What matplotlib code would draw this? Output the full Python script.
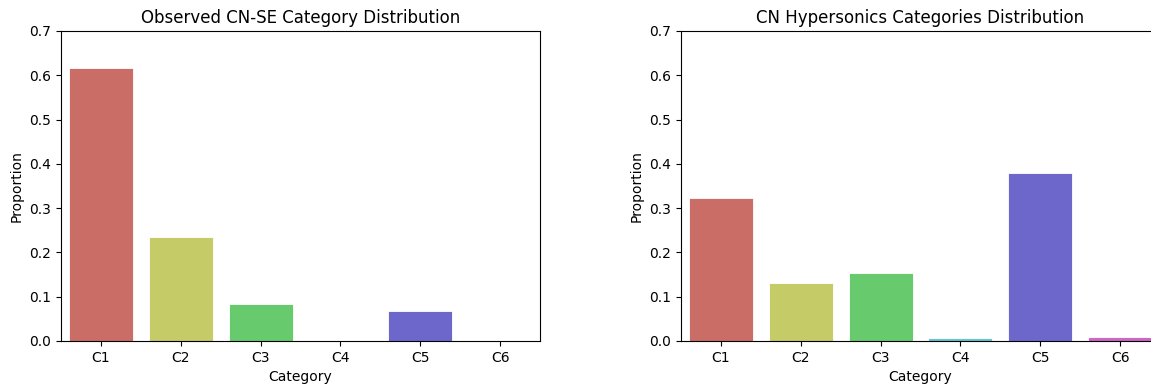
import matplotlib
matplotlib.use("Agg")
import matplotlib.pyplot as plt
import seaborn as sns
import pandas as pd

# --- data ---
categories = ["C1", "C2", "C3", "C4", "C5", "C6"]
observed_props = [0.617, 0.234, 0.084, 0.0, 0.067, 0.0]
hypersonic_props = [0.322, 0.131, 0.154, 0.006, 0.379, 0.009]

titles = ["Observed CN-SE Category Distribution",
          "CN Hypersonics Categories Distribution"]

palette = sns.color_palette("hls", len(categories))

fig = plt.figure(figsize=(11.51, 3.9), dpi=100)
# right panel runs off the right edge, as in the cropped original
ax_left = fig.add_axes([61 / 1151, 49 / 390, 479 / 1151, 310 / 390])
ax_right = fig.add_axes([681 / 1151, 49 / 390, 479 / 1151, 310 / 390])

for ax, vals, title in zip([ax_left, ax_right],
                           [observed_props, hypersonic_props], titles):
    df = pd.DataFrame({"Category": categories, "Proportion": vals})
    sns.barplot(data=df, x="Category", y="Proportion", hue="Category",
                palette=palette, legend=False, ax=ax,
                edgecolor="white", linewidth=0.6)
    ax.set_ylim(0, 0.7)
    ax.set_yticks([0.0, 0.1, 0.2, 0.3, 0.4, 0.5, 0.6, 0.7])
    ax.set_title(title, fontsize=12)
    ax.set_xlabel("Category", fontsize=10)
    ax.set_ylabel("Proportion", fontsize=10)

fig.savefig("out.png", dpi=100)
